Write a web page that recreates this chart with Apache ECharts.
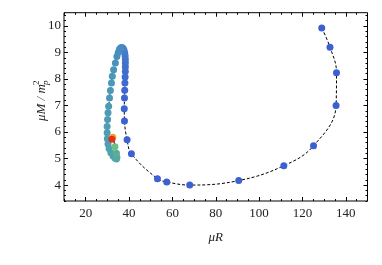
<!DOCTYPE html>
<html><head><meta charset="utf-8">
<script src="https://cdn.jsdelivr.net/npm/echarts@6/dist/echarts.min.js"></script>
<style>html,body{margin:0;padding:0;background:#fff}#c{width:382px;height:265px}</style>
</head><body><div id="c"></div>
<script>
// data (order along the curve)
const muR = [128.9,132.7,135.7,135.5,125.1,111.4,90.6,68.0,57.4,53.1,41.1,39.1,37.9,37.8,37.9,38.0,38.1,38.2,38.3,38.3,38.3,38.3,38.2,38.0,37.7,37.3,36.8,36.2,35.6,35.0,34.4,33.7,32.9,32.3,31.9,31.4,31.0,30.6,30.3,30.1,29.9,29.9,30.0,30.3,30.8,31.6,32.6,33.5,34.2,34.4,34.2,33.5,32.5,32.1];
const muM = [9.92,9.20,8.24,7.00,5.48,4.73,4.17,4.00,4.12,4.24,5.18,5.71,6.42,6.88,7.28,7.58,7.85,8.08,8.28,8.45,8.60,8.74,8.87,8.98,9.08,9.15,9.19,9.18,9.12,9.00,8.85,8.60,8.35,8.10,7.85,7.57,7.28,6.97,6.73,6.47,6.21,5.97,5.75,5.55,5.38,5.22,5.10,5.02,4.98,5.05,5.20,5.45,5.80,5.73];
const xMajor = [20,40,60,80,100,120,140];
const xMinor = [10,15,25,30,35,45,50,55,65,70,75,85,90,95,105,110,115,125,130,135,145,150];
const yMajor = [4,5,6,7,8,9,10];
const yMinor = [3.4,3.6,3.8,4.2,4.4,4.6,4.8,5.2,5.4,5.6,5.8,6.2,6.4,6.6,6.8,7.2,7.4,7.6,7.8,8.2,8.4,8.6,8.8,9.2,9.4,9.6,9.8,10.2,10.4];

const pts = muR.map((x,i)=>[x,muM[i]]);

// colour stops by position along the curve
const stops = [[0,'#3c5fd3'],[11,'#3d60d2'],[20,'#4272cc'],[27,'#4787c4'],[33,'#4b97b8'],[44,'#4fa0b0'],[49,'#55a8a2'],[50,'#5aae98'],[51,'#6cbf85'],[52,'#eba428'],[53,'#e2301a']];
function hex(c){return [1,3,5].map(k=>parseInt(c.substr(k,2),16));}
function colorAt(i){
  for(let k=0;k<stops.length-1;k++){
    const [a,ca]=stops[k],[b,cb]=stops[k+1];
    if(i>=a&&i<=b){const t=b===a?0:(i-a)/(b-a);const A=hex(ca),B=hex(cb);
      return 'rgb('+A.map((v,j)=>Math.round(v+(B[j]-v)*t)).join(',')+')';}
  }
  return stops[stops.length-1][1];
}

const serif = 'Liberation Serif, DejaVu Serif, serif';
const lab = {color:'#222', fontFamily:serif, fontSize:13};
function xax(pos, vals, len, showLab){
  return {type:'value', min:10, max:150, position:pos,
    axisLine:{show:false}, splitLine:{show:false},
    axisTick:{show:true, inside:true, length:len, customValues:vals, lineStyle:{color:'#000',width:1}},
    axisLabel:Object.assign({show:showLab, customValues:vals, margin:6}, lab)};
}
function yax(pos, vals, len, showLab){
  return {type:'value', min:3.4, max:10.5, position:pos,
    axisLine:{show:false}, splitLine:{show:false},
    axisTick:{show:true, inside:true, length:len, customValues:vals, lineStyle:{color:'#000',width:1}},
    axisLabel:Object.assign({show:showLab, customValues:vals, margin:3}, lab)};
}
const xA0 = xax('bottom', xMajor, 4, true);
xA0.name = 'μR'; xA0.nameLocation='middle'; xA0.nameGap=30;
xA0.nameTextStyle = {fontFamily:serif, fontStyle:'italic', fontSize:13, color:'#222'};

const chart = echarts.init(document.getElementById('c'), null, {renderer:'canvas'});
chart.setOption({
  animation:false,
  backgroundColor:'#fff',
  grid:{left:64, right:14.5, top:12.7, bottom:64, show:true, borderColor:'#000', borderWidth:1, backgroundColor:'transparent'},
  xAxis:[xA0, xax('bottom', xMinor, 2, false), xax('top', xMajor, 4, false), xax('top', xMinor, 2, false)],
  yAxis:[yax('left', yMajor, 4, true), yax('left', yMinor, 2, false), yax('right', yMajor, 4, false), yax('right', yMinor, 2, false)],
  graphic:[{
    type:'group', x:42, y:121, rotation:Math.PI/2,
    children:[
      {type:'text', x:0, y:0, style:{text:'μM / m', font:'italic 13px '+serif, fill:'#222', textAlign:'left', textVerticalAlign:'middle'}},
      {type:'text', x:36, y:-5, style:{text:'2', font:'9px '+serif, fill:'#222', textAlign:'left', textVerticalAlign:'middle'}},
      {type:'text', x:36, y:4, style:{text:'p', font:'italic 9px '+serif, fill:'#222', textAlign:'left', textVerticalAlign:'middle'}}
    ]
  }],
  series:[
    {type:'line', data:pts, smooth:0.4, symbol:'none', z:2,
     lineStyle:{color:'#000', width:1, type:[3,2]}},
    {type:'scatter', data:pts, symbolSize:7, z:3,
     itemStyle:{color:p=>colorAt(p.dataIndex), opacity:1}}
  ]
});
</script></body></html>
